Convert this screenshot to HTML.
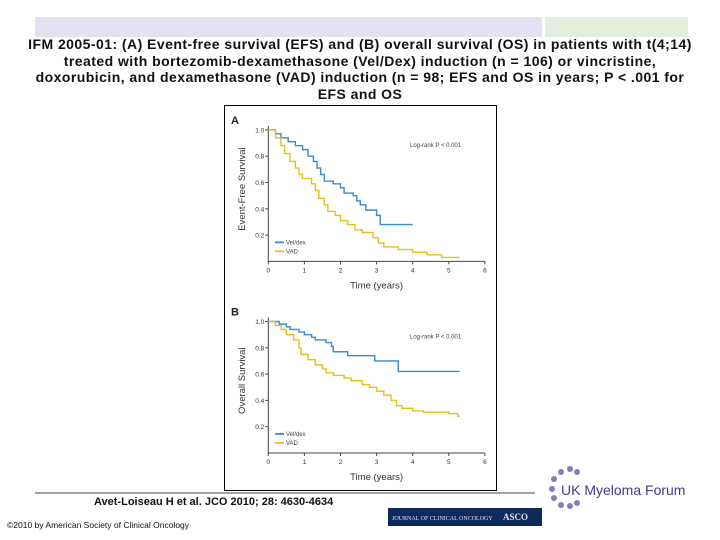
<!DOCTYPE html>
<html><head><meta charset="utf-8"><style>
body{margin:0;width:720px;height:540px;background:#fff;overflow:hidden;position:relative;font-family:"Liberation Sans",sans-serif}
.abs{position:absolute}
</style></head><body>
<div class="abs" style="left:35px;top:17px;width:507px;height:20px;background:#e4e2f2"></div>
<div class="abs" style="left:545px;top:17px;width:143px;height:20px;background:#e3efdd"></div>
<svg class="abs" style="left:0;top:0" width="720" height="540">
<rect x="224.5" y="105.5" width="272" height="385" fill="#fff" stroke="#000" stroke-width="1"/>
<line x1="35" y1="493" x2="535" y2="493" stroke="#444" stroke-width="1"/>
<g id="g"></g>
</svg>
<div class="abs" style="left:0px;top:36px;width:720px;text-align:center;font-size:14px;font-weight:bold;line-height:16.5px;letter-spacing:0.45px;color:#111;white-space:nowrap">IFM 2005-01: (A) Event-free survival (EFS) and (B) overall survival (OS) in patients with t(4;14)<br>treated with bortezomib-dexamethasone (Vel/Dex) induction (n = 106) or vincristine,<br>doxorubicin, and dexamethasone (VAD) induction (n = 98; EFS and OS in years; P &lt; .001 for<br>EFS and OS</div>
<div class="abs" style="left:94px;top:496px;font-size:11px;font-weight:bold;color:#111">Avet-Loiseau H et al. JCO 2010; 28: 4630-4634</div>
<div class="abs" style="left:7px;top:520px;font-size:8.5px;color:#111">©2010 by American Society of Clinical Oncology</div>
<div class="abs" style="left:388px;top:508px;width:154px;height:18px;background:#0d2a5c;color:#dfe6f2;font-family:'Liberation Serif',serif;font-size:6px;line-height:18px;padding-left:4px;box-sizing:border-box;white-space:nowrap;overflow:hidden">JOURNAL OF CLINICAL ONCOLOGY &nbsp;&nbsp;&nbsp;&nbsp;&nbsp;&nbsp;<b style="font-size:9px">ASCO</b></div>
<div class="abs" style="left:544px;top:465px;width:150px;height:45px">
<svg width="40" height="45" style="position:absolute;left:0;top:0">
<g fill="#8a79bf"><circle cx="8" cy="24" r="3"/><circle cx="10" cy="14" r="3"/><circle cx="17" cy="7" r="3"/><circle cx="26" cy="4" r="3"/><circle cx="33" cy="7" r="3"/><circle cx="10" cy="33" r="3"/><circle cx="17" cy="40" r="3"/><circle cx="26" cy="41" r="3"/><circle cx="33" cy="38" r="3"/></g></svg>
<div style="position:absolute;left:17px;top:17px;font-size:14px;color:#4a3a85;white-space:nowrap">UK Myeloma Forum</div>
</div>
<script>
const xTicks=[0,1,2,3,4,5,6];
const yTicks=[0.2,0.4,0.6,0.8,1.0];
const aVelT=[0,0.2,0.35,0.55,0.75,0.95,1.1,1.25,1.35,1.45,1.55,1.8,2.0,2.1,2.35,2.45,2.55,2.7,3.0,3.1,4.0];
const aVelS=[1.0,0.97,0.94,0.91,0.88,0.85,0.80,0.76,0.71,0.66,0.61,0.59,0.56,0.52,0.50,0.46,0.43,0.39,0.35,0.28,0.28];
const aVadT=[0,0.2,0.35,0.45,0.6,0.75,0.85,0.95,1.2,1.3,1.4,1.55,1.65,1.85,2.0,2.2,2.4,2.6,2.9,3.05,3.2,3.6,4.0,4.4,4.8,5.3];
const aVadS=[1.0,0.94,0.88,0.82,0.76,0.71,0.66,0.63,0.59,0.54,0.48,0.43,0.38,0.35,0.31,0.28,0.24,0.22,0.18,0.14,0.11,0.09,0.07,0.05,0.03,0.03];
const bVelT=[0,0.3,0.5,0.6,0.85,1.0,1.2,1.3,1.6,1.75,1.8,2.2,2.95,3.6,5.3];
const bVelS=[1.0,0.98,0.96,0.94,0.92,0.90,0.88,0.86,0.84,0.81,0.77,0.74,0.70,0.62,0.62];
const bVadT=[0,0.2,0.35,0.5,0.7,0.85,0.9,1.1,1.3,1.5,1.6,1.8,2.1,2.3,2.6,2.8,3.0,3.2,3.4,3.55,3.7,4.0,4.3,5.0,5.25,5.3];
const bVadS=[1.0,0.97,0.94,0.90,0.86,0.80,0.75,0.71,0.67,0.64,0.61,0.59,0.57,0.55,0.52,0.50,0.47,0.44,0.40,0.36,0.34,0.32,0.31,0.30,0.28,0.28];
const NS='http://www.w3.org/2000/svg';
const g=document.getElementById('g');
function mk(tag,at,parent){const e=document.createElementNS(NS,tag);for(const k in at)e.setAttribute(k,at[k]);(parent||g).appendChild(e);return e;}
function panel(id,letter,y0,yTitle,series){
  const X=t=>268.3+t*36.1, Y=v=>y0-v*131.5;
  const p=mk('g',{});
  
  
  const L=mk('text',{x:231,y:Y(1)-6,'font-size':11,'font-weight':'bold',fill:'#222'},p);L.textContent=letter;
  
  const ax=mk('path',{d:`M${X(0)},${Y(1.03)}V${y0}H${X(6)}`,stroke:'#444',fill:'none','stroke-width':1},p);
  
  xTicks.forEach(t=>{mk('line',{x1:X(t),x2:X(t),y1:y0,y2:y0+3,stroke:'#444'},p);
    const tx=mk('text',{x:X(t),y:y0+11,'font-size':6.5,'text-anchor':'middle',fill:'#333'},p);tx.textContent=t;
    });
  yTicks.forEach(v=>{mk('line',{x1:X(0)-3,x2:X(0),y1:Y(v),y2:Y(v),stroke:'#444'},p);
    const tx=mk('text',{x:X(0)-4,y:Y(v)+2.5,'font-size':6.5,'text-anchor':'end',fill:'#333'},p);tx.textContent=v.toFixed(1);
    });
  const xt=mk('text',{x:X(3),y:y0+27,'font-size':9.5,'text-anchor':'middle',fill:'#333'},p);xt.textContent='Time (years)';
  
  const yt=mk('text',{x:0,y:0,'font-size':9.5,'text-anchor':'middle',fill:'#333',transform:`translate(245,${Y(0.55)}) rotate(-90)`},p);yt.textContent=yTitle;
  
  const lr=mk('text',{x:410,y:Y(0.87),'font-size':6,fill:'#444'},p);lr.textContent='Log-rank P < 0.001';
  
  series.forEach((s,i)=>{
    let d=`M${X(s.t[0])},${Y(s.s[0])}`;
    for(let k=1;k<s.t.length;k++){d+=`H${X(s.t[k])}V${Y(s.s[k])}`;}
    const pa=mk('path',{d:d,stroke:s.c,fill:'none','stroke-width':1.4},p);
    
    const ly=Y(0.145)+i*9;
    mk('line',{x1:275,x2:284,y1:ly,y2:ly,stroke:s.c,'stroke-width':1.8},p);
    const lt=mk('text',{x:286,y:ly+2.3,'font-size':6,fill:'#444'},p);lt.textContent=s.label;
    
  });
}
panel('a','A',261.4,'Event-Free Survival',[{t:aVelT,s:aVelS,c:'#3a8ad4',n:'veldex',label:'Vel/dex'},{t:aVadT,s:aVadS,c:'#e0c21e',n:'vad',label:'VAD'}]);
panel('b','B',453,'Overall Survival',[{t:bVelT,s:bVelS,c:'#3a8ad4',n:'veldex',label:'Vel/dex'},{t:bVadT,s:bVadS,c:'#e0c21e',n:'vad',label:'VAD'}]);
</script>
</body></html>
